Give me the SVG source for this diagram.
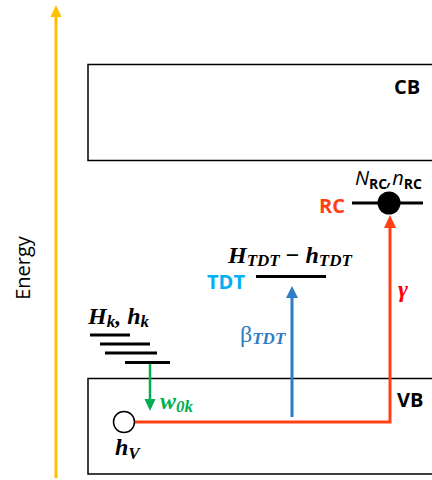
<svg xmlns="http://www.w3.org/2000/svg" width="432" height="480" viewBox="0 0 432 480">
<style>
.box{fill:none;stroke:#000;stroke-width:1.5}
.lvl{stroke:#000;stroke-width:3}
.lbl{font-family:"Open Sans","Liberation Sans",sans-serif;font-weight:bold;font-size:20px}
.m{font-family:"Liberation Serif","DejaVu Serif",serif;font-weight:bold;font-style:italic;font-size:24px}
.s{font-size:17px}
</style>
<rect width="432" height="480" fill="#fff"/>
<g id="energy-axis">
<line x1="56" y1="478" x2="56" y2="16" stroke="#FFC000" stroke-width="3"/>
<path d="M50.5,17 L56,5 L61.5,17 Z" fill="#FFC000"/>
<text x="22" y="268" transform="rotate(-90 22 268)" text-anchor="middle" dominant-baseline="central" font-family="Open Sans, Liberation Sans, sans-serif" font-size="20" fill="#000">Energy</text>
</g>
<g id="CB">
<rect class="box" x="88" y="64.5" width="360" height="96"/>
<text class="lbl" x="394" y="94">CB</text>
</g>
<g id="VB">
<rect class="box" x="88" y="378.5" width="360" height="95.5"/>
<text class="lbl" x="397" y="407">VB</text>
</g>
<g id="RC">
<line class="lvl" x1="352" y1="203" x2="423" y2="203"/>
<circle cx="389" cy="203" r="11.5" fill="#000"/>
<text class="lbl" x="319" y="213" fill="#FF4013">RC</text>
<text x="355" y="185" font-family="Open Sans, Liberation Sans, sans-serif" font-size="20" font-style="italic" fill="#000">N<tspan font-size="14" font-weight="bold" font-style="normal" dy="4">RC</tspan><tspan dy="-4">,n</tspan><tspan font-size="14" font-weight="bold" font-style="normal" dy="4">RC</tspan></text>
</g>
<g id="TDT">
<line class="lvl" x1="256" y1="276.5" x2="326" y2="276.5"/>
<text class="lbl" x="207" y="289" fill="#00B0F0">TDT</text>
<text class="m" x="228" y="263">H<tspan class="s" dy="3">TDT</tspan><tspan dy="-3" font-style="normal"> − </tspan>h<tspan class="s" dy="3">TDT</tspan></text>
</g>
<g id="Hk">
<line class="lvl" x1="90" y1="335" x2="130" y2="335"/>
<line class="lvl" x1="100" y1="344" x2="150" y2="344"/>
<line class="lvl" x1="105" y1="353" x2="157" y2="353"/>
<line class="lvl" x1="125" y1="362.5" x2="170" y2="362.5"/>
<text class="m" x="88" y="324">H<tspan class="s" dy="3">k</tspan><tspan dy="-3">, h</tspan><tspan class="s" dy="3">k</tspan></text>
</g>
<g id="hV">
<circle cx="124" cy="422" r="10.5" fill="#fff" stroke="#000" stroke-width="1.5"/>
<text class="m" x="115" y="455">h<tspan class="s" dy="4">V</tspan></text>
</g>
<g id="connectors">
<path d="M135,422 H390 V226" fill="none" stroke="#FF4013" stroke-width="3"/>
<path d="M384,228 L390,215 L396,228 Z" fill="#FF4013"/>
<line x1="292" y1="417" x2="292" y2="296" stroke="#2E7DC4" stroke-width="3"/>
<path d="M286,298 L292,286 L298,298 Z" fill="#2E7DC4"/>
<line x1="150" y1="364" x2="150" y2="400" stroke="#00B050" stroke-width="2.5"/>
<path d="M144.5,399 L150,411 L155.5,399 Z" fill="#00B050"/>
<text class="m" x="398" y="297" fill="#FF0000">γ</text>
<text x="240" y="342" font-family="Liberation Serif, serif" font-size="24" fill="#2E7DC4">β<tspan font-size="17" font-weight="bold" font-style="italic" dy="2">TDT</tspan></text>
<text class="m" x="160" y="409" fill="#00B050">w<tspan class="s" dy="3">0k</tspan></text>
</g>
</svg>
